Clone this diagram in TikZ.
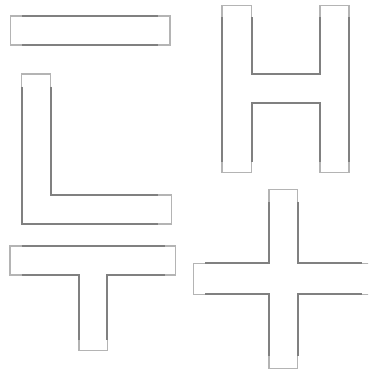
\documentclass[tikz,border=0pt]{standalone}
\begin{document}
\begin{tikzpicture}[x=1pt,y=-1pt,
  capline/.style={draw={rgb,255:red,180;green,180;blue,180},line width=1.3pt,line join=miter},
  edgeline/.style={draw={rgb,255:red,128;green,128;blue,128},line width=2pt,line join=miter}]
\useasboundingbox (0,0) rectangle (368,370);
\clip (0,0) rectangle (368,370);
% I bar
\draw[capline] (10.7,16) -- (170,16) -- (170,45) -- (10.7,45) -- cycle;
\draw[edgeline] (22,16) -- (158,16);
\draw[edgeline] (22,45) -- (158,45);
% H
\draw[capline] (222,5.7) -- (251.7,5.7) -- (251.7,74) -- (320,74) -- (320,5.7) -- (349,5.7) -- (349,172.7) -- (320,172.7) -- (320,103) -- (251.7,103) -- (251.7,172.7) -- (222,172.7) -- cycle;
\draw[edgeline] (222,17) -- (222,162);
\draw[edgeline] (251.7,17) -- (251.7,74) -- (320,74) -- (320,17);
\draw[edgeline] (251.7,162) -- (251.7,103) -- (320,103) -- (320,162);
\draw[edgeline] (349,17) -- (349,162);
% L
\draw[capline] (21.7,74) -- (50.7,74) -- (50.7,195) -- (171.7,195) -- (171.7,224) -- (21.7,224) -- cycle;
\draw[edgeline] (21.7,86.7) -- (21.7,224) -- (158,224);
\draw[edgeline] (50.7,86.7) -- (50.7,195) -- (158,195);
% T
\draw[capline] (10,246) -- (175.7,246) -- (175.7,275) -- (107.3,275) -- (107.3,350.7) -- (79,350.7) -- (79,275) -- (10,275) -- cycle;
\draw[edgeline] (21.7,246) -- (165,246);
\draw[edgeline] (21.7,275) -- (79,275) -- (79,340);
\draw[edgeline] (165,275) -- (107.3,275) -- (107.3,340);
% plus
\draw[capline] (269,189.3) -- (297.7,189.3) -- (297.7,263.3) -- (375,263.3) -- (375,294.3) -- (297.7,294.3) -- (297.7,368.3) -- (269,368.3) -- (269,294.3) -- (193.3,294.3) -- (193.3,263.3) -- (269,263.3) -- cycle;
\draw[edgeline] (205,263.3) -- (269,263.3) -- (269,201.7);
\draw[edgeline] (297.7,201.7) -- (297.7,263.3) -- (362,263.3);
\draw[edgeline] (205,294.3) -- (269,294.3) -- (269,356);
\draw[edgeline] (297.7,356) -- (297.7,294.3) -- (362,294.3);
\end{tikzpicture}
\end{document}
